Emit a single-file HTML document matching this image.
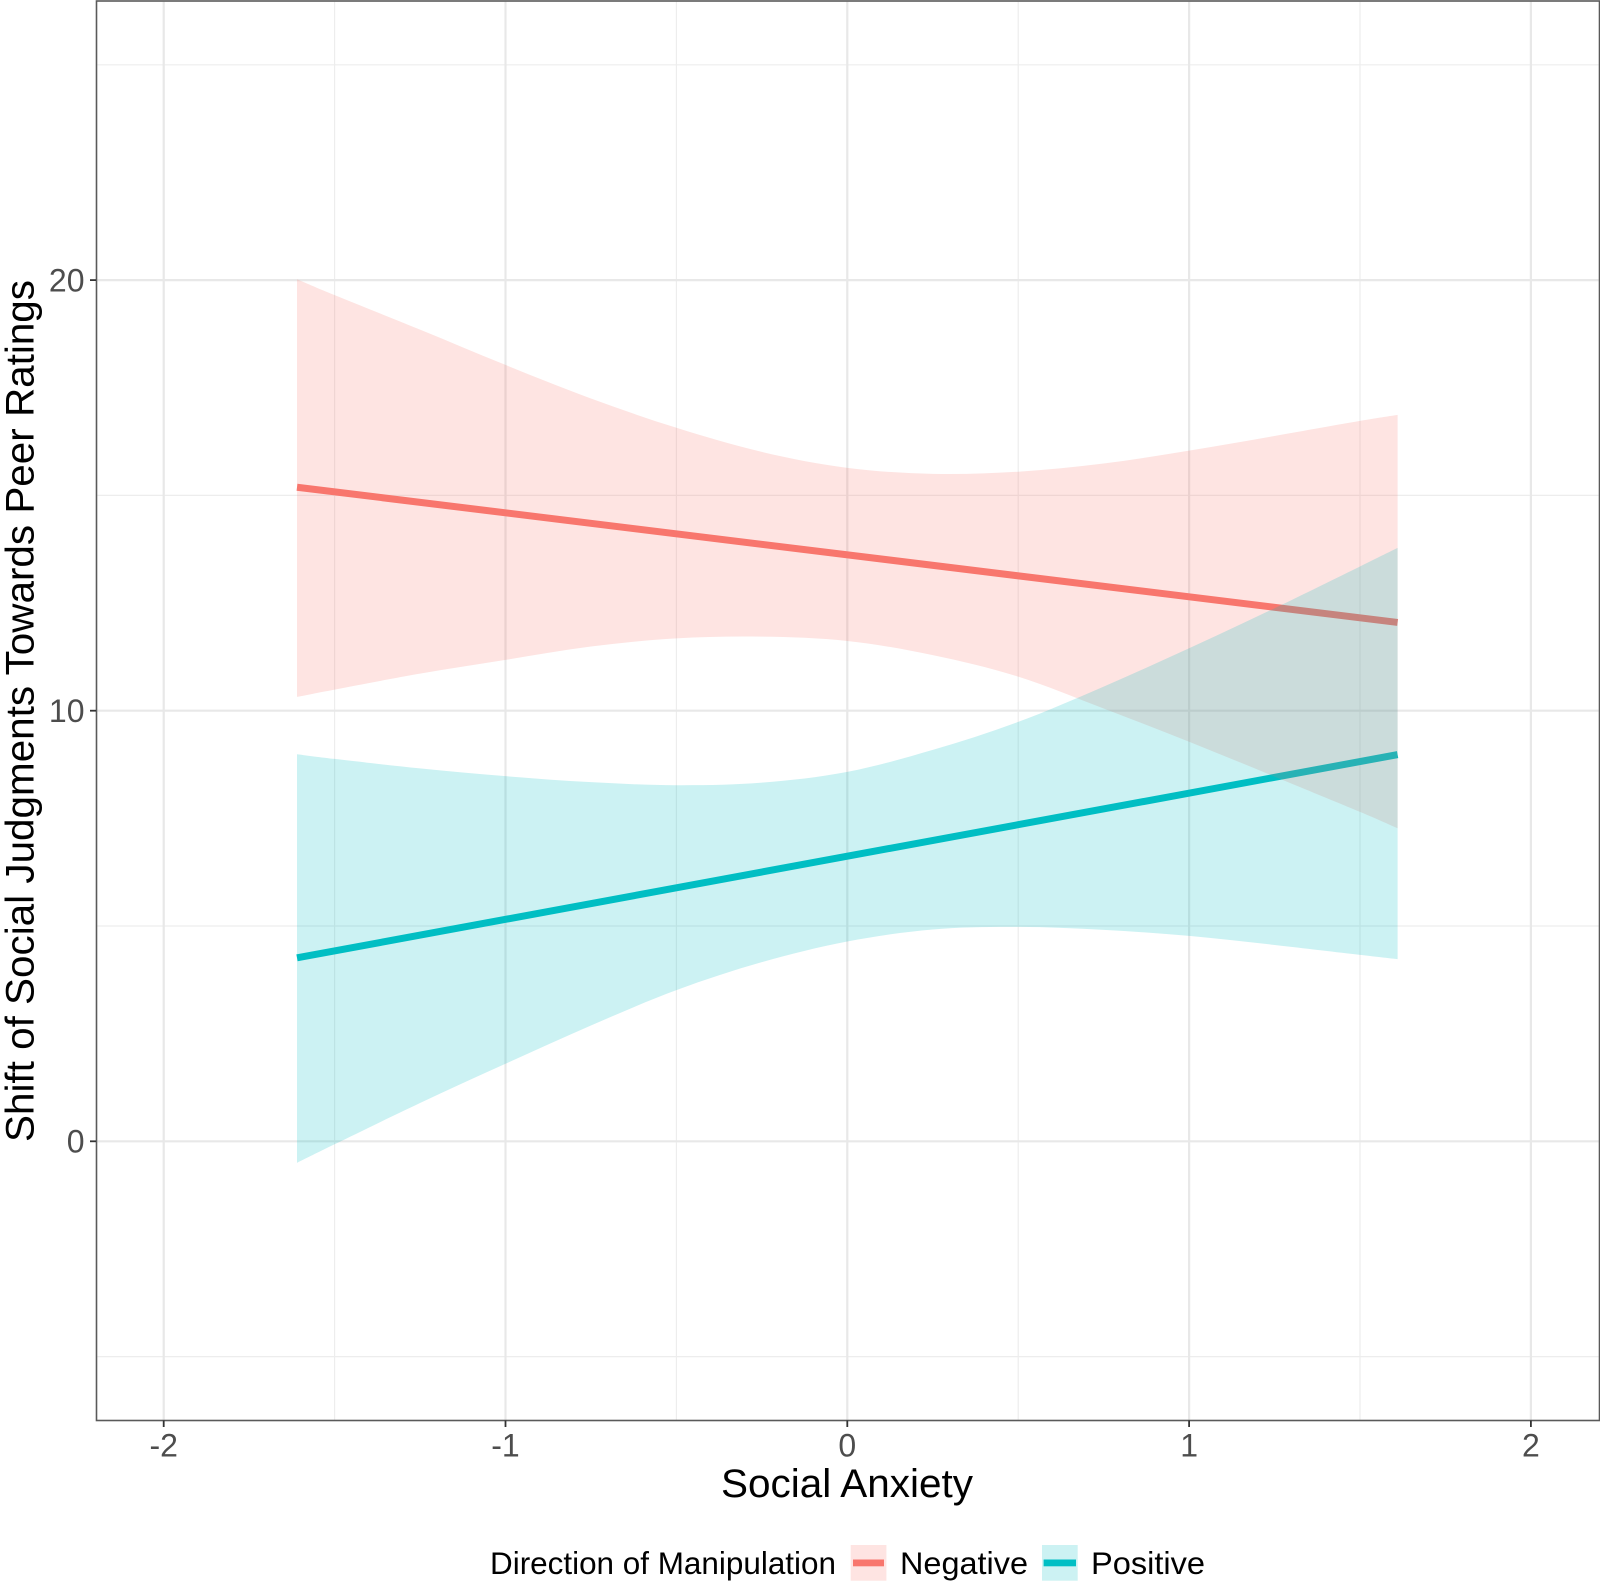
<!DOCTYPE html>
<html lang="en">
<head>
<meta charset="utf-8">
<title>Shift of Social Judgments by Social Anxiety</title>
<style>
html,body{margin:0;padding:0;background:#fff;}
svg{display:block;font-family:"Liberation Sans",Arial,sans-serif;}
</style>
</head>
<body>
<svg id="chart" xmlns="http://www.w3.org/2000/svg" width="1600" height="1584" viewBox="0 0 1600 1584">
  <rect x="0" y="0" width="1600" height="1584" fill="#ffffff"/>
  <g id="grid"></g>
  <g id="lines"></g>
  <g id="ribbons"></g>
  <rect x="96.5" y="1" width="1503" height="1419.5" fill="none" stroke="#5a5a5a" stroke-width="1.6"/>
  <g id="axes"></g>
  <text x="847" y="1497" text-anchor="middle" font-size="40" fill="#000000" textLength="252" lengthAdjust="spacingAndGlyphs">Social Anxiety</text>
  <text transform="translate(33.5 711) rotate(-90)" x="0" y="0" text-anchor="middle" font-size="39.5" fill="#000000" textLength="862" lengthAdjust="spacingAndGlyphs">Shift of Social Judgments Towards Peer Ratings</text>
  <g>
    <text x="490" y="1574" font-size="31.5" fill="#000000" textLength="346" lengthAdjust="spacingAndGlyphs">Direction of Manipulation</text>
    <g>
      <rect x="850.7" y="1545" width="35.7" height="35.7" fill="#F8766D" fill-opacity="0.2"/>
      <rect x="853" y="1559.5" width="31" height="6.8" fill="#F8766D"/>
      <text x="900" y="1574" font-size="31.5" fill="#000000" textLength="128" lengthAdjust="spacingAndGlyphs">Negative</text>
    </g>
    <g>
      <rect x="1042" y="1545" width="35.7" height="35.7" fill="#00BFC4" fill-opacity="0.2"/>
      <rect x="1043.6" y="1559.5" width="32.4" height="6.8" fill="#00BFC4"/>
      <text x="1091" y="1574" font-size="31.5" fill="#000000" textLength="114" lengthAdjust="spacingAndGlyphs">Positive</text>
    </g>
  </g>
</svg>
<script>
// Chart data
const xMajorTicks = [-2, -1, 0, 1, 2];
const xMinorTicks = [-1.5, -0.5, 0.5, 1.5];
const yMajorTicks = [0, 10, 20];
const yMinorTicks = [-5, 5, 15, 25];
const xLabels = ['-2', '-1', '0', '1', '2'];
const yLabels = ['0', '10', '20'];

const ribbonX = [-1.61, -1.5, -1.25, -1, -0.75, -0.5, -0.25, 0, 0.25, 0.5, 0.75, 1, 1.25, 1.5, 1.61];
const negativeUpper = [20.02, 19.65, 18.85, 18.03, 17.25, 16.57, 16.01, 15.64, 15.5, 15.55, 15.74, 16.04, 16.38, 16.73, 16.87];
const negativeLower = [10.32, 10.49, 10.86, 11.18, 11.49, 11.68, 11.72, 11.62, 11.29, 10.79, 10.05, 9.28, 8.47, 7.65, 7.27];
const positiveUpper = [8.99, 8.88, 8.66, 8.48, 8.34, 8.27, 8.33, 8.58, 9.09, 9.74, 10.56, 11.45, 12.38, 13.35, 13.78];
const positiveLower = [-0.5, -0.07, 0.89, 1.8, 2.69, 3.51, 4.16, 4.64, 4.92, 4.98, 4.91, 4.77, 4.56, 4.33, 4.23];

const lineX = [-1.61, 1.61];
const negativeLine = [15.19, 12.05];
const positiveLine = [4.26, 8.98];

const NS = 'http://www.w3.org/2000/svg';
const PANEL = { left: 97.3, right: 1598.7, top: 1.8, bottom: 1419.7 };

function xScale(v) { return 847.3 + 341.8 * v; }
function yScale(v) { return 1141.3 - 43.06 * v; }

function make(tag, parent, attrs) {
  const el = document.createElementNS(NS, tag);
  for (const k in attrs) el.setAttribute(k, attrs[k]);
  parent.appendChild(el);
  return el;
}

// Catmull-Rom smoothing through the read points, with extrapolated end tangents.
function smoothSegments(pts) {
  let d = '';
  const n = pts.length;
  for (let i = 0; i < n - 1; i++) {
    const p1 = pts[i], p2 = pts[i + 1];
    const p0 = i > 0 ? pts[i - 1] : [2 * p1[0] - p2[0], 2 * p1[1] - p2[1]];
    const p3 = i < n - 2 ? pts[i + 2] : [2 * p2[0] - p1[0], 2 * p2[1] - p1[1]];
    const c1x = p1[0] + (p2[0] - p0[0]) / 6, c1y = p1[1] + (p2[1] - p0[1]) / 6;
    const c2x = p2[0] - (p3[0] - p1[0]) / 6, c2y = p2[1] - (p3[1] - p1[1]) / 6;
    d += ' C' + c1x.toFixed(2) + ' ' + c1y.toFixed(2) + ' ' + c2x.toFixed(2) + ' ' + c2y.toFixed(2) + ' ' + p2[0].toFixed(2) + ' ' + p2[1].toFixed(2);
  }
  return d;
}

function ribbonPath(xs, upper, lower) {
  const top = xs.map((x, i) => [xScale(x), yScale(upper[i])]);
  const bot = xs.map((x, i) => [xScale(x), yScale(lower[i])]).reverse();
  return 'M' + top[0][0].toFixed(2) + ' ' + top[0][1].toFixed(2) + smoothSegments(top) +
    ' L' + bot[0][0].toFixed(2) + ' ' + bot[0][1].toFixed(2) + smoothSegments(bot) + ' Z';
}

const gridG = document.getElementById('grid');
const linesG = document.getElementById('lines');
const ribbonsG = document.getElementById('ribbons');
const axesG = document.getElementById('axes');

yMinorTicks.forEach(function (v) {
  const el = make('line', gridG, { x1: PANEL.left, x2: PANEL.right, y1: yScale(v), y2: yScale(v), stroke: '#EDEDED', 'stroke-width': 1.2 });
  
  
});
xMinorTicks.forEach(function (v) {
  const el = make('line', gridG, { x1: xScale(v), x2: xScale(v), y1: PANEL.top, y2: PANEL.bottom, stroke: '#EDEDED', 'stroke-width': 1.2 });
  
  
});
yMajorTicks.forEach(function (v) {
  const el = make('line', gridG, { x1: PANEL.left, x2: PANEL.right, y1: yScale(v), y2: yScale(v), stroke: '#E8E8E8', 'stroke-width': 2.2 });
  
  
});
xMajorTicks.forEach(function (v) {
  const el = make('line', gridG, { x1: xScale(v), x2: xScale(v), y1: PANEL.top, y2: PANEL.bottom, stroke: '#E8E8E8', 'stroke-width': 2.2 });
  
  
});

const negLineEl = make('line', linesG, { x1: xScale(lineX[0]), x2: xScale(lineX[1]), y1: yScale(negativeLine[0]), y2: yScale(negativeLine[1]), stroke: '#F8766D', 'stroke-width': 7 });



const posLineEl = make('line', linesG, { x1: xScale(lineX[0]), x2: xScale(lineX[1]), y1: yScale(positiveLine[0]), y2: yScale(positiveLine[1]), stroke: '#00BFC4', 'stroke-width': 7 });



const negRibbonEl = make('path', ribbonsG, { d: ribbonPath(ribbonX, negativeUpper, negativeLower), fill: '#F8766D', 'fill-opacity': 0.2 });



const posRibbonEl = make('path', ribbonsG, { d: ribbonPath(ribbonX, positiveUpper, positiveLower), fill: '#00BFC4', 'fill-opacity': 0.2 });



xMajorTicks.forEach(function (v, i) {
  const tick = make('line', axesG, { x1: xScale(v), x2: xScale(v), y1: 1420.5, y2: 1427, stroke: '#333333', 'stroke-width': 1.8 });
  
  
  const label = make('text', axesG, { x: xScale(v), y: 1456.5, 'text-anchor': 'middle', 'font-size': 32, fill: '#4D4D4D' });
  label.textContent = xLabels[i];
  
  
});
yMajorTicks.forEach(function (v, i) {
  const tick = make('line', axesG, { x1: 90, x2: 96, y1: yScale(v), y2: yScale(v), stroke: '#333333', 'stroke-width': 1.8 });
  
  
  const label = make('text', axesG, { x: 84.5, y: yScale(v) + 11.3, 'text-anchor': 'end', 'font-size': 32, fill: '#4D4D4D' });
  label.textContent = yLabels[i];
  
  
});
</script>
</body>
</html>
